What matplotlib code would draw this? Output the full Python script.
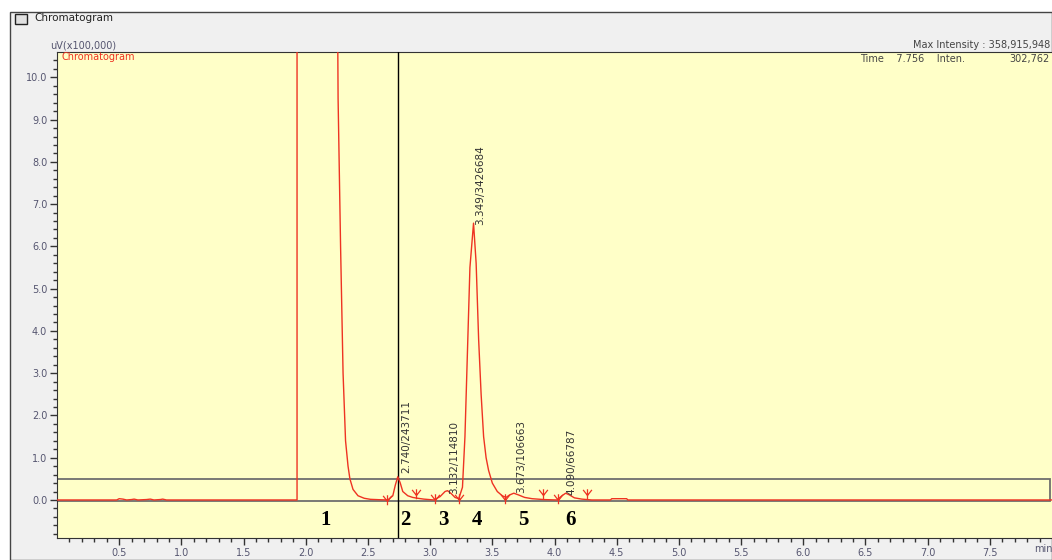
import matplotlib.pyplot as plt
from matplotlib.patches import Rectangle
from matplotlib.path import Path
import numpy as np

# trace (time in min, intensity in uV x 100,000)
t = [0.0, 0.48, 0.50, 0.53, 0.56, 0.60, 0.62, 0.65, 0.72, 0.75, 0.78, 0.83, 0.85, 0.88,
     1.93, 1.93, 2.255, 2.26, 2.28, 2.30, 2.32, 2.34, 2.355, 2.38, 2.42, 2.47, 2.52, 2.60,
     2.66, 2.70, 2.72, 2.74, 2.76, 2.78, 2.82, 2.86, 2.90, 2.95, 3.03,
     3.08, 3.12, 3.14, 3.17, 3.20, 3.23,
     3.26, 3.28, 3.30, 3.32, 3.349, 3.37, 3.39, 3.41, 3.43, 3.45, 3.47, 3.50, 3.54, 3.58, 3.61,
     3.64, 3.673, 3.71, 3.76, 3.82, 3.91, 4.02,
     4.06, 4.09, 4.12, 4.16, 4.22, 4.30, 4.45, 4.46, 4.58, 4.59, 8.0]
v = [0.0, 0.0, 0.03, 0.02, 0.0, 0.01, 0.02, 0.0, 0.01, 0.02, 0.0, 0.01, 0.02, 0.0,
     0.0, 12.0, 12.0, 9.5, 6.0, 3.0, 1.4, 0.8, 0.5, 0.25, 0.1, 0.04, 0.015, 0.005,
     0.0, 0.1, 0.35, 0.55, 0.4, 0.2, 0.1, 0.06, 0.04, 0.02, 0.0,
     0.08, 0.2, 0.22, 0.15, 0.06, 0.03,
     0.3, 1.5, 3.5, 5.5, 6.55, 5.6, 3.8, 2.5, 1.5, 1.0, 0.7, 0.4, 0.2, 0.1, 0.06,
     0.12, 0.16, 0.12, 0.06, 0.03, 0.01, 0.0,
     0.1, 0.16, 0.12, 0.05, 0.02, 0.0, 0.0, 0.03, 0.03, 0.0, 0.0]

# peak start/end marks
mark_t = [2.65, 2.89, 3.04, 3.23, 3.60, 3.91, 4.03, 4.26]
mark_v = [-0.02, 0.12, 0.0, 0.0, 0.0, 0.12, 0.0, 0.12]

# peak labels (time/area) and where they sit
lab_text = ['2.740/243711', '3.132/114810', '3.349/3426684', '3.673/106663', '4.090/66787']
lab_t = [2.81, 3.19, 3.40, 3.73, 4.14]
lab_v = [0.64, 0.14, 6.5, 0.16, 0.12]

num_text = ['1', '2', '3', '4', '5', '6']
num_t = [2.16, 2.80, 3.11, 3.38, 3.75, 4.13]

W, H = 1052, 560
fig = plt.figure(figsize=(W / 100, H / 100), dpi=100, facecolor='white')

# gray window panel
fig.patches.append(Rectangle((10 / W, 0), (W - 10) / W, (H - 12) / H, transform=fig.transFigure,
                             facecolor='#f0f0f0', edgecolor='#444444', lw=1, zorder=-2))
fig.patches.append(Rectangle((15 / W, (H - 24) / H), 12 / W, 10 / H, transform=fig.transFigure,
                             facecolor='#e0e0e0', edgecolor='#222222', lw=1, zorder=-1))
fig.text(34 / W, (H - 18) / H, 'Chromatogram', fontsize=7.5, va='center', color='#222222')

ax = fig.add_axes([57 / W, (H - 538) / H, (W - 57) / W, (538 - 52) / H])
ax.set_zorder(2)
ax.set_facecolor('#ffffc8')
ax.set_xlim(0, 8.0)
ax.set_ylim(-0.90, 10.6)

# gray zoom box and cursor
ax.add_patch(Rectangle((0, -0.02), 7.98, 0.52, facecolor='none', edgecolor='#6e6e6e', lw=1.3, zorder=2))
ax.axvline(2.74, color='black', lw=1, zorder=3)

ax.plot(t, v, color='#ee3322', lw=1, zorder=4)

arrow = Path([(0, -0.6), (0, 1), (0, 0), (-0.7, 0.9), (0, 0), (0.7, 0.9)],
             [Path.MOVETO, Path.LINETO, Path.MOVETO, Path.LINETO, Path.MOVETO, Path.LINETO])
ax.plot(mark_t, mark_v, ls='none', marker=arrow, ms=9, mec='#ee3322', mfc='none', mew=0.9, zorder=5)

for s, x, y in zip(lab_text, lab_t, lab_v):
    ax.text(x, y, s, rotation=90, fontsize=7.5, color='#333333', ha='center', va='bottom', zorder=6)

for s, x in zip(num_text, num_t):
    ax.text(x, -0.47, s, fontsize=15, fontweight='bold', family='Liberation Serif',
            ha='center', va='center', color='black', zorder=6)

ax.set_xticks(np.arange(0.5, 8.0, 0.5))
ax.set_xticks(np.arange(0.1, 8.0, 0.1), minor=True)
ax.set_yticks(np.arange(0, 11, 1.0))
ax.set_yticks(np.arange(-0.8, 10.6, 0.2), minor=True)
ax.xaxis.set_major_formatter(plt.FormatStrFormatter('%.1f'))
ax.yaxis.set_major_formatter(plt.FormatStrFormatter('%.1f'))
ax.tick_params(which='major', direction='out', length=5, width=1, color='#333333',
               labelsize=7, labelcolor='#555570', pad=2)
ax.tick_params(which='minor', direction='out', length=3, width=1, color='#333333')
for side in ['left', 'bottom', 'top']:
    ax.spines[side].set_color('#333333')
ax.spines['right'].set_visible(False)

fig.text(1043 / W, (H - 549) / H, 'min', fontsize=7, color='#555570', ha='center', va='center')
fig.text(50 / W, (H - 46) / H, 'uV(x100,000)', fontsize=7, color='#555570', va='center')
ax.text(0.04, 10.48, 'Chromatogram', fontsize=7, color='#ee3322', va='center')
fig.text(1050 / W, (H - 45) / H, 'Max Intensity : 358,915,948', fontsize=7, color='#444444',
         ha='right', va='center')
fig.text(860 / W, (H - 59) / H, 'Time    7.756    Inten.', fontsize=7, color='#444444', va='center')
fig.text(1050 / W, (H - 59) / H, '302,762', fontsize=7, color='#444444', ha='right', va='center')

fig.savefig('out.png', dpi=100, facecolor='white')
